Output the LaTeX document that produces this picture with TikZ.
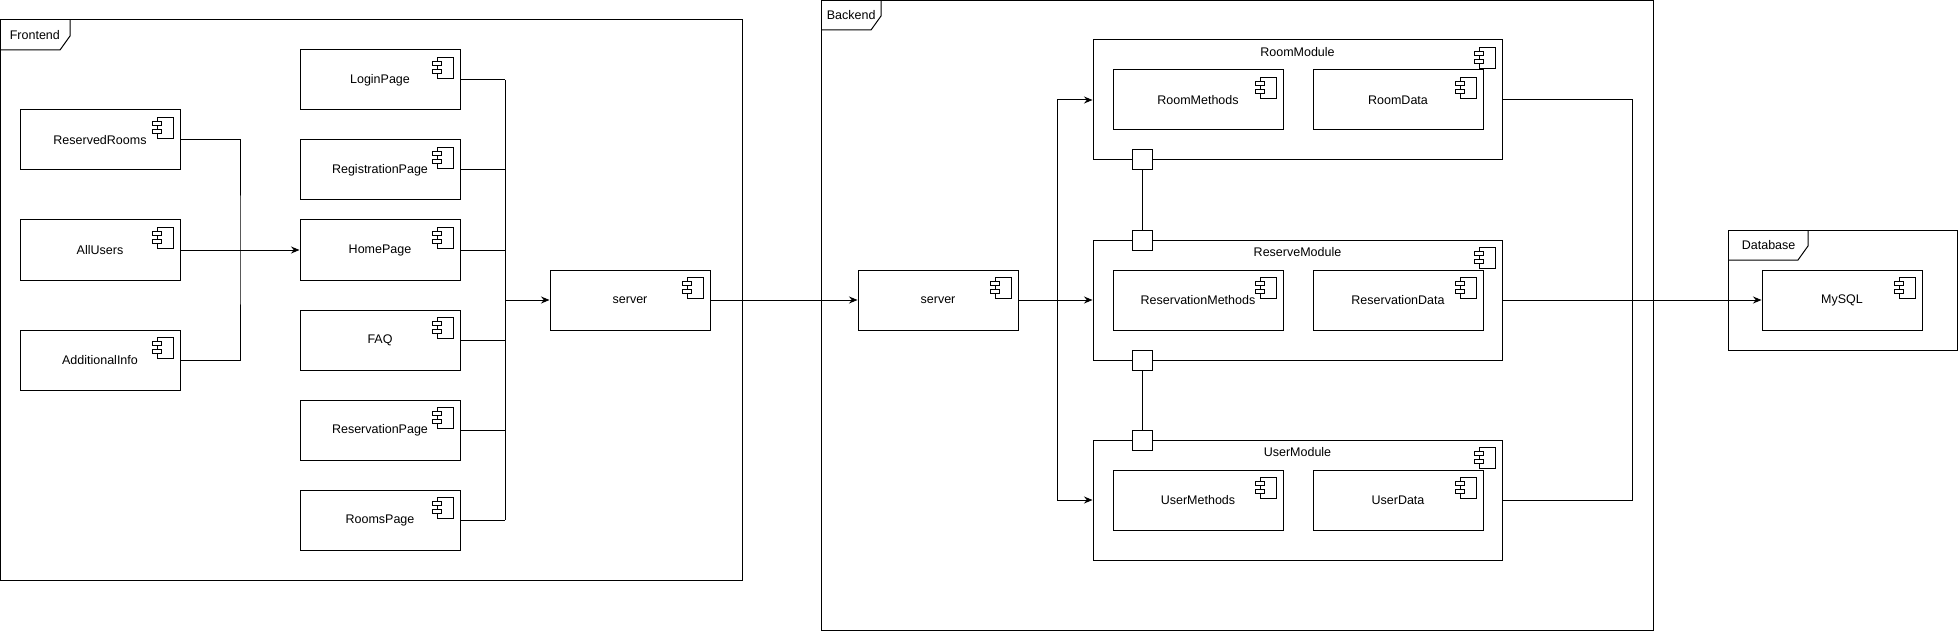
\documentclass[tikz,border=0pt]{standalone}
\usepackage{fontspec}
\setmainfont{Liberation Sans}
\usetikzlibrary{positioning,arrows.meta}

\begin{document}
\begin{tikzpicture}[x=1pt, y=-1pt, line width=1pt, font=\fontsize{12.5}{15}\selectfont,
    >={Stealth[length=8.5pt, width=7pt]},
    icon/.style={path picture={
      \draw[line width=0.8pt] ([xshift=-23pt, yshift=-7pt]path picture bounding box.north east) rectangle ++(16pt,-21pt);
      \draw[line width=0.8pt, fill=white] ([xshift=-27.5pt, yshift=-11pt]path picture bounding box.north east) rectangle ++(9pt,-4.5pt);
      \draw[line width=0.8pt, fill=white] ([xshift=-27.5pt, yshift=-19pt]path picture bounding box.north east) rectangle ++(9pt,-4.5pt);
    }},
    comp/.style={draw, icon, minimum width=160pt, minimum height=60pt, inner sep=0pt},
    inner/.style={comp, minimum width=170pt},
    module/.style={draw, icon, minimum width=409pt, minimum height=120pt, inner sep=0pt},
    port/.style={draw, fill=white, minimum size=20pt, inner sep=0pt}]
  \useasboundingbox (0,0) rectangle (1959,631);

  % frames
  \draw (0,20) rectangle (742,580);
  \draw (0,50) -- (60,50) -- (70,36) -- (70,20);
  \node[anchor=west] (fetab) at (6,35) {Frontend};
  \draw (821,0.5) rectangle (1653,630);
  \draw (821,30) -- (871,30) -- (881,16) -- (881,0.5);
  \node[anchor=west] (betab) at (823,15) {Backend};
  \draw (1728,230) rectangle (1957,350);
  \draw (1728,260) -- (1798,260) -- (1808,246) -- (1808,230);
  \node[anchor=west] (dbtab) at (1738,245) {Database};

  % frontend
  \node[comp] (resrooms) at (100,140) {ReservedRooms};
  \node[comp] (allusers) at (100,250) {AllUsers};
  \node[comp] (addinfo) at (100,360) {AdditionalInfo};
  \node[comp] (login) at (380,80) {LoginPage};
  \node[comp] (reg) [below=29pt of login] {RegistrationPage};
  \node[comp] (home) [below=19pt of reg] {HomePage};
  \node[comp] (faq) [below=29pt of home] {FAQ};
  \node[comp] (resv) [below=29pt of faq] {ReservationPage};
  \node[comp] (rooms) [below=29pt of resv] {RoomsPage};
  \node[comp] (srvf) at (630,300) {server};

  % backend
  \node[comp] (srvb) at (938,300) {server};
  \node[module, label={[anchor=center, yshift=-13pt]north:RoomModule}] (room) at (1297.5,100) {};
  \node[module, label={[anchor=center, yshift=-13pt]north:ReserveModule}] (reserve) [below=79pt of room] {};
  \node[module, label={[anchor=center, yshift=-13pt]north:UserModule}] (user) [below=79pt of reserve] {};
  \node[inner] (roommeth) at (1198,100) {RoomMethods};
  \node[inner] (roomdata) [right=29pt of roommeth] {RoomData};
  \node[inner] (resmeth) at (1198,300) {ReservationMethods};
  \node[inner] (resdata) [right=29pt of resmeth] {ReservationData};
  \node[inner] (usermeth) at (1198,500) {UserMethods};
  \node[inner] (userdata) [right=29pt of usermeth] {UserData};
  \node[port] (rmport) at (1142,160) {};
  \node[port] (rsport1) at (1142,240) {};
  \node[port] (rsport2) at (1142,360) {};
  \node[port] (usport) at (1142,440) {};

  % database
  \node[comp] (mysql) at (1842,300) {MySQL};

  % connectors
  \coordinate (lbus) at (240,250);
  \draw (resrooms.east) -| (lbus) |- (addinfo.east);
  \draw[->] (allusers) -- (home);
  \coordinate (fbus) at (505,300);
  \foreach \pg in {login,reg,home,faq,resv,rooms}
    \draw (\pg.east) -- (\pg.east -| fbus);
  \draw (login.east -| fbus) -- (rooms.east -| fbus);
  \draw[->] (fbus) -- (srvf);
  \draw[->] (srvf) -- (srvb);
  \coordinate (bbus) at (1057,300);
  \draw (srvb) -- (bbus);
  \draw[->] (bbus) |- (room);
  \draw[->] (bbus) -- (reserve);
  \draw[->] (bbus) |- (user);
  \draw (rmport) -- (rsport1);
  \draw (rsport2) -- (usport);
  \coordinate (rbus) at (1632,300);
  \draw (room.east) -| (rbus) |- (user.east);
  \draw[->] (reserve) -- (mysql);
\end{tikzpicture}
\end{document}
